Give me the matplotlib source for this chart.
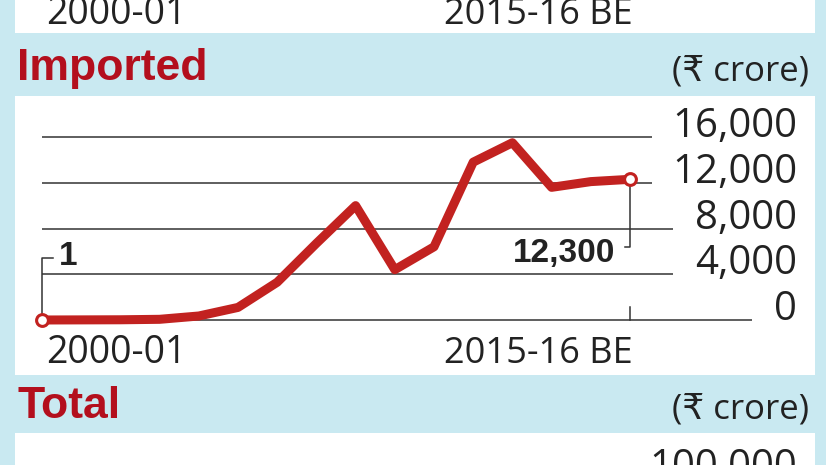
import matplotlib.pyplot as plt
from matplotlib.patches import Rectangle
from matplotlib.transforms import blended_transform_factory

# Imported, Rs crore, 2000-01 .. 2015-16 BE
years = ["2000-01", "2001-02", "2002-03", "2003-04", "2004-05", "2005-06",
         "2006-07", "2007-08", "2008-09", "2009-10", "2010-11", "2011-12",
         "2012-13", "2013-14", "2014-15", "2015-16 BE"]
imported = [1, 10, 20, 60, 350, 1100, 3300, 6700, 10000, 4400, 6400,
            13800, 15500, 11600, 12100, 12300]
y_ticks = [0, 4000, 8000, 12000, 16000]
y_tick_labels = ["0", "4,000", "8,000", "12,000", "16,000"]
first_label = "1"
last_label = "12,300"

W, H = 826, 465
BLUE = "#c9e9f1"
RED = "#b30f1d"
LINE_RED = "#c22220"
TXT = "#222222"
REG = ["Open Sans", "DejaVu Sans"]
BOLD = ["Liberation Sans", "DejaVu Sans"]


def fx(px):
    return px / W


def fy(py):
    return 1 - py / H


fig = plt.figure(figsize=(W / 100, H / 100), dpi=100, facecolor=BLUE)

# white panels (behind the axes)
for top, bot in [(-5, 33), (96, 375), (433, 470)]:
    fig.patches.append(Rectangle((fx(15), fy(bot)), fx(800), (bot - top) / H,
                                 transform=fig.transFigure, facecolor="white",
                                 edgecolor="none", zorder=-5))

# chart axes: x 0..15 spans px 42..630, y 0..16000 spans px 320..137
ax = fig.add_axes([fx(42), fy(320), fx(797 - 42), (320 - 137) / H])
ax.set_xlim(0, (797 - 42) / 39.2)
ax.set_ylim(0, 16000)
ax.axis("off")

x = list(range(len(years)))
ends = {0: 18.1, 4000: 16.1, 8000: 16.1, 12000: 15.56, 16000: 15.56}
for v, lab in zip(y_ticks, y_tick_labels):
    ax.plot([0, ends[v]], [v, v], color="#333333", lw=1.1, zorder=1,
            clip_on=False, solid_capstyle="butt")
    ax.text(ax.get_xlim()[1], v, lab, ha="right", va="baseline",
            fontsize=29, color=TXT, family=REG)

# small tick at last year on the zero line
ax.plot([x[-1], x[-1]], [0, 1150], color="#333333", lw=1.1, clip_on=False)

ax.plot(x, imported, color=LINE_RED, lw=6.5, solid_joinstyle="round",
        solid_capstyle="round", zorder=3, clip_on=False)
ax.plot([x[0], x[-1]], [imported[0], imported[-1]], ls="none", marker="o",
        ms=8.5, mfc="white", mec=LINE_RED, mew=2.2, zorder=4, clip_on=False)

# leader lines for first and last values
ax.plot([x[0], x[0], x[0] + 0.27], [imported[0], 5420, 5420],
        color="#333333", lw=1.1, zorder=2, clip_on=False)
ax.text(x[0] + 0.42, 4810, first_label, ha="left", va="baseline",
        fontsize=24, fontweight="bold", color=TXT, family=BOLD)
ax.plot([x[-1], x[-1], x[-1] - 0.13], [imported[-1], 6380, 6380],
        color="#333333", lw=1.1, zorder=2, clip_on=False)
ax.text(x[-1] - 0.38, 5070, last_label, ha="right", va="baseline",
        fontsize=24, fontweight="bold", color=TXT, family=BOLD)

# year labels
xt = ax.get_xaxis_transform()
ax.text(x[0] + 0.1, -0.235, years[0], transform=xt, ha="left",
        va="baseline", fontsize=27, color=TXT, family=REG)
ax.text(x[-1] + 0.08, -0.235, years[-1], transform=xt, ha="right",
        va="baseline", fontsize=26, color=TXT, family=REG)

# previous panel's year labels, cut off at the top
tt = blended_transform_factory(ax.transData, fig.transFigure)
fig.text(x[0] + 0.1, fy(24), years[0], transform=tt, ha="left",
         va="baseline", fontsize=27, color=TXT, family=REG)
fig.text(x[-1] + 0.08, fy(24), years[-1], transform=tt, ha="right",
         va="baseline", fontsize=26, color=TXT, family=REG)

# headers
fig.text(fx(17), fy(80), "Imported", ha="left", va="baseline",
         fontsize=32, fontweight="bold", color=RED, family=BOLD)
fig.text(fx(809), fy(80), "(₹ crore)", ha="right", va="baseline",
         fontsize=25, color=TXT, family=REG)
fig.text(fx(17), fy(418), "Total", ha="left", va="baseline",
         fontsize=32, fontweight="bold", color=RED, family=BOLD)
fig.text(fx(809), fy(418), "(₹ crore)", ha="right", va="baseline",
         fontsize=25, color=TXT, family=REG)

# next panel's top tick label, cut off at the bottom
fig.text(fx(797), fy(478), "100,000", ha="right", va="baseline",
         fontsize=29, color=TXT, family=REG)

fig.savefig("out.png", dpi=100, facecolor=BLUE)
